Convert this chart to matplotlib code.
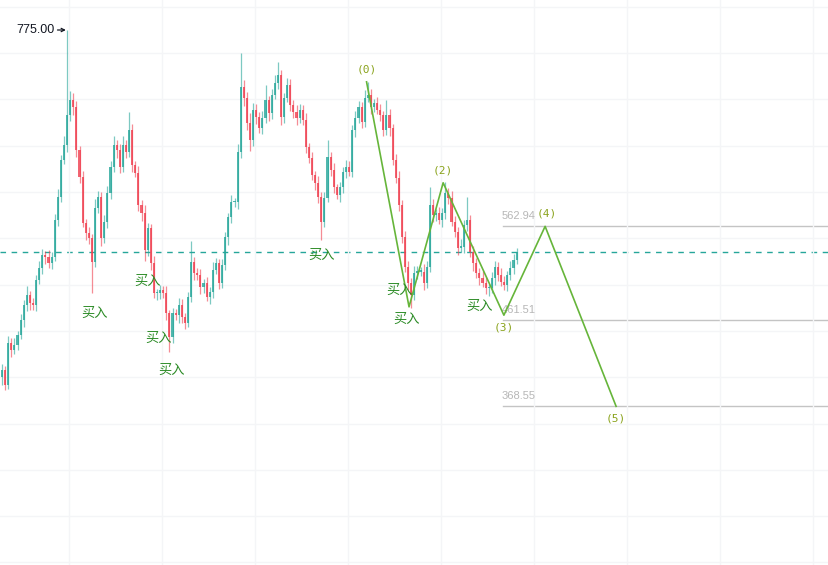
import numpy as np
import matplotlib.pyplot as plt

plt.rcParams['font.family'] = ['Noto Sans CJK SC', 'DejaVu Sans']

# price data (one value per candle)
first_open = 400
closes = [408, 392, 437, 429, 435, 446, 462, 478, 489, 480,
          478, 505, 518, 532, 530, 523, 530, 570, 595, 635,
          651, 683, 699, 692, 645, 616, 567, 556, 550, 524,
          583, 595, 550, 568, 599, 627, 651, 645, 627, 651,
          643, 667, 629, 621, 586, 577, 537, 561, 523, 491,
          491, 494, 491, 469, 443, 469, 467, 478, 465, 459,
          487, 524, 513, 510, 497, 502, 487, 492, 516, 523,
          502, 521, 551, 573, 589, 589, 643, 713, 702, 675,
          656, 689,
          681, 669, 680, 699, 685, 705, 718, 726, 681, 702,
          716, 694, 686, 680, 689, 678, 649, 637, 618, 610,
          595, 568, 594, 638, 624, 605, 597, 605, 622, 627,
          622, 667, 680, 692, 676, 702, 705, 692, 696, 689,
          683, 667, 683, 669, 635, 615, 586, 551, 519, 502,
          489, 513, 514, 514, 502, 519, 586, 575, 577, 570,
          577, 599, 594, 568, 557, 540, 541, 564, 570, 535,
          523, 513, 507, 502, 496, 496, 507, 519, 510, 503,
          500, 510, 518, 527, 535]
wick_up = [6, 4, 8, 5, 7, 4, 6, 5, 9, 4, 6, 5, 8, 6, 4, 7, 5, 6, 8, 5,
           9, 92, 10, 8, 6, 5, 7, 4, 6, 5, 9, 6, 5, 7, 8, 6, 10, 5, 7, 9,
           5, 19, 6, 4, 7, 5, 9, 6, 5, 8, 4, 6, 5, 7, 4, 6, 5, 8, 6, 4,
           5, 23, 6, 5, 7, 4, 6, 5, 8, 6, 5, 7, 6, 4, 8, 5, 9, 37, 8, 6,
           10, 7,
           6, 5, 7, 17, 5, 6, 8, 14, 6, 5, 7, 6, 5, 8, 6, 5, 7, 4, 6, 5,
           7, 5, 6, 18, 5, 7, 4, 6, 5, 8, 6, 5, 7, 6, 5, 8, 14, 6, 5, 7,
           6, 5, 16, 7, 5, 6, 8, 5, 7, 6, 5, 7, 6, 5, 8, 6, 19, 6, 5, 7,
           6, 12, 5, 7, 6, 5, 8, 6, 25, 5, 7, 6, 5, 8, 6, 5, 7, 6, 5, 8,
           6, 5, 7, 6, 5]
wick_dn = [8, 6, 5, 7, 4, 6, 5, 8, 6, 7, 5, 6, 4, 7, 8, 5, 6, 5, 7, 6,
           5, 8, 6, 9, 7, 6, 5, 8, 6, 33, 5, 6, 8, 5, 7, 6, 5, 8, 6, 5,
           6, 5, 7, 5, 6, 8, 12, 6, 7, 5, 8, 6, 5, 7, 16, 6, 5, 8, 6, 7,
           5, 6, 8, 5, 7, 6, 5, 8, 6, 5, 7, 6, 5, 8, 6, 5, 7, 6, 9, 8,
           12, 6,
           7, 5, 6, 5, 8, 6, 5, 7, 9, 6, 5, 7, 6, 8, 5, 6, 7, 6, 5, 8,
           7, 20, 6, 5, 7, 6, 5, 8, 6, 7, 5, 6, 8, 5, 7, 6, 5, 8, 6, 5,
           6, 7, 5, 8, 6, 5, 7, 6, 5, 8, 14, 6, 7, 5, 8, 6, 5, 7, 6, 5,
           8, 6, 7, 5, 6, 8, 5, 7, 6, 5, 8, 6, 7, 5, 6, 8, 5, 7, 6, 5,
           6, 7, 5, 6, 5]

# annotations
peak_idx = 21
peak_price = 775.00
last_price = 535
buy_x = [29.7, 47.1, 50.6, 54.8, 103.2, 128.1, 130.6, 153.9]
buy_y = [469, 504, 442, 407, 532, 494, 462, 477]
wave_x = [117.6, 131.3, 142.3, 161.9, 175.2, 198.1]
wave_y = [719, 476, 610, 467, 562.94, 368.55]
wave_names = ['(0)', '', '(2)', '(3)', '(4)', '(5)']
wave_up = [True, False, True, False, True, False]
levels = [562.94, 461.51, 368.55]
level_start = 161.6

opens = [first_open] + closes[:-1]
n = len(closes)
x = np.arange(n)
o = np.array(opens, float)
c = np.array(closes, float)
hi = np.maximum(o, c) + np.array(wick_up)
lo = np.minimum(o, c) - np.array(wick_dn)

fig = plt.figure(figsize=(8.29, 5.65), dpi=100)
ax = fig.add_axes([0, 0, 1, 1])

step = 3.1
ax.set_xlim(-2 / step, 827 / step)
ax.set_ylim(197.2, 807.4)

# faint grid
ax.set_xticks(21.6 + 30 * np.arange(9))
ax.set_yticks(np.arange(200, 801, 50))
ax.grid(color='#f4f5f7', lw=1)
ax.tick_params(length=0, labelbottom=False, labelleft=False)
for s in ax.spines.values():
    s.set_visible(False)

up = c >= o
green = '#26a69a'
red = '#ef3f4f'
cols = np.where(up, green, red)
ax.vlines(x, lo, hi, colors=cols, lw=0.9, alpha=0.6, zorder=2)
ax.bar(x, np.maximum(np.abs(c - o), 1.5), bottom=np.minimum(o, c), width=0.7,
       color=cols, alpha=0.8, lw=0, zorder=3)

ax.axhline(last_price, color='#26a69a', ls=(0, (4, 4)), lw=1, zorder=1)

# highest price marker
ax.text(17.0, peak_price, f'{peak_price:.2f}', ha='right', va='center',
        fontsize=9, color='#131722', family=['Liberation Sans', 'DejaVu Sans'])
ax.annotate('', xy=(20.6, peak_price), xytext=(17.9, peak_price),
            arrowprops=dict(arrowstyle='->', color='#131722', lw=0.9,
                            shrinkA=0, shrinkB=0, mutation_scale=6))

for bx, by in zip(buy_x, buy_y):
    ax.text(bx, by, '买入', ha='center', va='center', fontsize=9.5, color='#2a8a24', zorder=5)

# projected wave
ax.plot(wave_x, wave_y, color='#66b53a', lw=1.2, zorder=4)
for wx, wy, name, isup in zip(wave_x, wave_y, wave_names, wave_up):
    if name:
        ax.annotate(name, (wx, wy), xytext=(1 if name == '(4)' else 0, 9 if isup else -9),
                    textcoords='offset points', ha='center', va='center', fontsize=8,
                    color='#8aa31c', family='DejaVu Sans Mono', zorder=5)

for lv in levels:
    ax.plot([level_start, 830 / step], [lv, lv], color='#c4c4c4', lw=1, zorder=1)
    ax.annotate(f'{lv:.2f}', (level_start - 0.3, lv), xytext=(0, 4), textcoords='offset points',
                ha='left', va='bottom', fontsize=8, color='#b7b7b7',
                family=['Liberation Sans', 'DejaVu Sans'])

fig.savefig('out.png', dpi=100)
